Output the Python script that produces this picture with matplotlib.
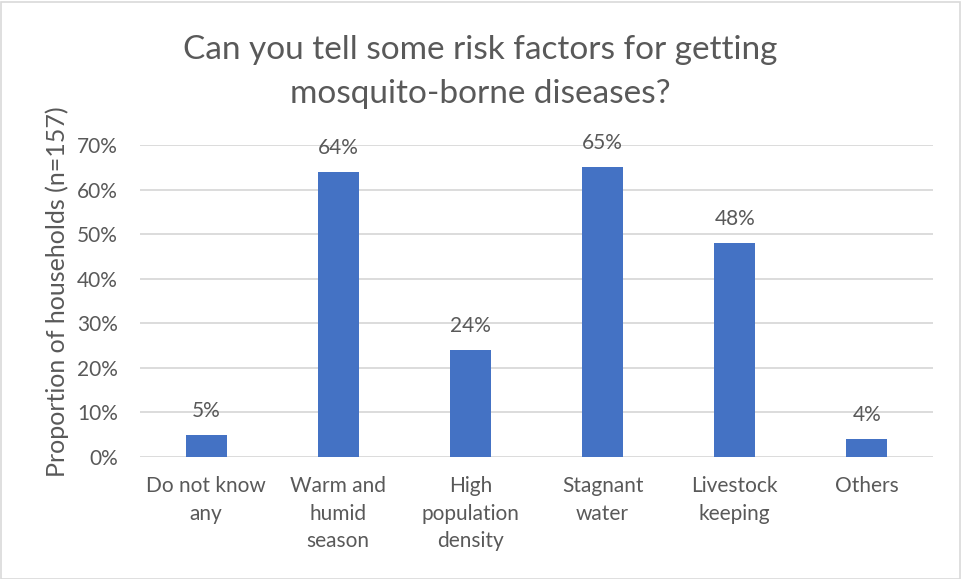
import matplotlib
matplotlib.use("Agg")
import matplotlib.pyplot as plt
from matplotlib.patches import Rectangle
from matplotlib.ticker import PercentFormatter

categories = ["Do not know\nany", "Warm and\nhumid\nseason", "High\npopulation\ndensity",
              "Stagnant\nwater", "Livestock\nkeeping", "Others"]
values = [5, 64, 24, 65, 48, 4]
y_ticks = [0, 10, 20, 30, 40, 50, 60, 70]

plt.rcParams["font.family"] = ["Lato", "DejaVu Sans"]
text_color = "#595959"
bar_color = "#4472C4"
grid_color = "#D9D9D9"

W, H = 961, 579
fig = plt.figure(figsize=(W / 100, H / 100), dpi=100)
ax = fig.add_axes([140 / W, 1 - 457 / H, (933 - 140) / W, (457 - 145) / H])

x = list(range(len(categories)))
ax.bar(x, values, width=0.31, color=bar_color, zorder=3)
for xi, v in zip(x, values):
    ax.annotate(f"{v}%", (xi, v), xytext=(0, 10), textcoords="offset points",
                ha="center", va="bottom", fontsize=15, color=text_color)

ax.set_xlim(-0.5, len(categories) - 0.5)
ax.set_ylim(0, 70)
ax.set_yticks(y_ticks)
ax.yaxis.set_major_formatter(PercentFormatter(decimals=0))
ax.set_xticks(x)
ax.set_xticklabels(categories, fontsize=15, color=text_color, linespacing=1.45)
ax.tick_params(axis="y", labelsize=15, labelcolor=text_color, length=0, pad=16)
ax.tick_params(axis="x", length=0, pad=14)
ax.grid(axis="y", color=grid_color, linewidth=1.3, zorder=0)
for s in ax.spines.values():
    s.set_visible(False)

ax.set_ylabel("Proportion of households (n=157)", fontsize=18, color=text_color)
ax.yaxis.set_label_coords(-0.09, 0.53)
fig.text(0.5, 1 - 72 / H, "Can you tell some risk factors for getting\nmosquito-borne diseases?",
         ha="center", va="center", fontsize=24, color=text_color, linespacing=1.55)

fig.patches.append(Rectangle((0.5 / W, 0.5 / H), 1 - 2 / W, 1 - 2 / H, transform=fig.transFigure,
                             fill=False, edgecolor="#D9D9D9", linewidth=1.2))

fig.savefig("out.png", dpi=100, facecolor="white")
